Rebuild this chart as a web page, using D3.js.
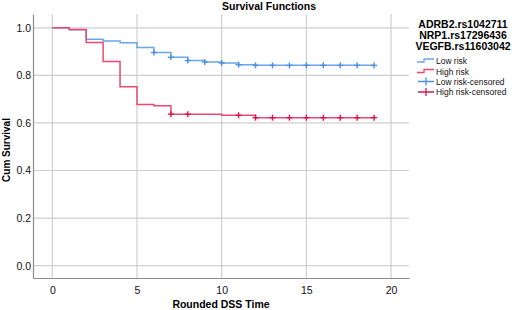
<!DOCTYPE html>
<html><head><meta charset="utf-8">
<script src="https://cdn.jsdelivr.net/npm/d3@7"></script>
<style>body{margin:0;background:#fff}svg{display:block;font-family:"Liberation Sans",Arial,sans-serif}</style>
</head><body><svg id="c" width="512" height="310"></svg>
<script>
const xTicks = [0, 5, 10, 15, 20];
const yTicks = [0.0, 0.2, 0.4, 0.6, 0.8, 1.0];
const lowTimes = [0, 1, 2, 3, 4, 5, 6, 7, 8, 9, 10, 11, 12];
const lowSurv  = [1.0, 0.992, 0.952, 0.944, 0.937, 0.917, 0.896, 0.876, 0.862, 0.856, 0.852, 0.845, 0.842];
const lowEnd = 19;
const lowCensor = [6, 7, 8, 9, 10, 11, 12, 13, 14, 15, 16, 17, 18, 19];
const highTimes = [0, 1, 2, 3, 4, 5, 6, 7, 10, 12];
const highSurv  = [1.0, 0.993, 0.938, 0.858, 0.752, 0.678, 0.672, 0.637, 0.632, 0.622];
const highEnd = 19;
const highCensor = [7, 8, 11, 12, 13, 14, 15, 16, 17, 18, 19];
const legendTitle = ["ADRB2.rs1042711", "NRP1.rs17296436", "VEGFB.rs11603042"];
const legendItems = ["Low risk", "High risk", "Low risk-censored", "High risk-censored"];

const lowColor = "#6aa6ec", lowMark = "#4e8fe2";
const highColor = "#e94a72", highMark = "#d8164c";

const svg = d3.select("#c");
const L = 33, R = 409, T = 14, B = 278;
const x = d3.scaleLinear().domain([-1.14, 21.06]).range([L, R]);
const y = d3.scaleLinear().domain([-0.052, 1.058]).range([B, T]);

// grid
svg.append("g").selectAll("line").data(yTicks).join("line")
  .attr("x1", L).attr("x2", R).attr("y1", d => y(d)).attr("y2", d => y(d))
  .attr("stroke", "#cfcfcf").attr("stroke-width", 1.2);
svg.append("g").selectAll("line").data(xTicks).join("line")
  .attr("y1", T).attr("y2", B).attr("x1", d => x(d)).attr("x2", d => x(d))
  .attr("stroke", "#cfcfcf").attr("stroke-width", 1.2);

// axes
const xa = svg.append("g").attr("transform", `translate(0,${B})`)
  .call(d3.axisBottom(x).tickValues(xTicks).tickSize(0).tickPadding(9).tickFormat(d3.format("d")));
const ya = svg.append("g").attr("transform", `translate(${L},0)`)
  .call(d3.axisLeft(y).tickValues(yTicks).tickSize(0).tickPadding(2).tickFormat(d3.format(".1f")));
[xa, ya].forEach(a => {
  a.select(".domain").attr("stroke", "#8c8c8c").attr("stroke-width", 1.2);
  a.selectAll("text").attr("font-size", "10.5px").attr("fill", "#111").attr("font-family", "Liberation Sans, Arial, sans-serif");
});

function stepVal(times, surv, t) {
  let v = surv[0];
  for (let i = 0; i < times.length; i++) if (times[i] <= t) v = surv[i];
  return v;
}
const line = d3.line().x(d => x(d[0])).y(d => y(d[1])).curve(d3.curveStepAfter);

function drawSeries(times, surv, end, cens, col, mcol) {
  const pts = times.map((t, i) => [t, surv[i]]);
  pts.push([end, surv[surv.length - 1]]);
  svg.append("path").attr("d", line(pts)).attr("fill", "none").attr("stroke", col).attr("stroke-width", 1.5);
  const g = svg.append("g");
  cens.forEach(t => {
    const cx = x(t), cy = y(stepVal(times, surv, t));
    g.append("line").attr("x1", cx).attr("x2", cx).attr("y1", cy - 3).attr("y2", cy + 3).attr("stroke", mcol).attr("stroke-width", 1.4);
    g.append("line").attr("x1", cx - 3).attr("x2", cx + 3).attr("y1", cy).attr("y2", cy).attr("stroke", mcol).attr("stroke-width", 1.4);
  });
}
drawSeries(lowTimes, lowSurv, lowEnd, lowCensor, lowColor, lowMark);
drawSeries(highTimes, highSurv, highEnd, highCensor, highColor, highMark);

// titles
svg.append("text").attr("x", 269).attr("y", 9.5).attr("text-anchor", "middle")
  .attr("font-size", "10.5px").attr("font-weight", "bold").text("Survival Functions");
svg.append("text").attr("x", 221).attr("y", 307.5).attr("text-anchor", "middle")
  .attr("font-size", "10.5px").attr("font-weight", "bold").text("Rounded DSS Time");
svg.append("text").attr("transform", "translate(10,150) rotate(-90)").attr("text-anchor", "middle")
  .attr("font-size", "10px").attr("font-weight", "bold").text("Cum Survival");

// legend
legendTitle.forEach((t, i) => {
  svg.append("text").attr("x", 463).attr("y", 28 + i * 11).attr("text-anchor", "middle")
    .attr("font-size", "10.5px").attr("font-weight", "bold").text(t);
});
const ly = [61, 71.5, 81.5, 92];
const lcols = [lowColor, highColor, lowMark, highMark];
legendItems.forEach((t, i) => {
  const cy = ly[i];
  if (i < 2) {
    svg.append("path").attr("d", `M417,${cy + 1}H424V${cy - 2}H434`).attr("fill", "none")
      .attr("stroke", lcols[i]).attr("stroke-width", 1.3);
  } else {
    svg.append("path").attr("d", `M418,${cy}H434M426,${cy - 4}V${cy + 4}`).attr("fill", "none")
      .attr("stroke", lcols[i]).attr("stroke-width", 1.3);
  }
  svg.append("text").attr("transform", `translate(436,${cy + 3.4}) scale(0.89,1)`)
    .attr("font-size", "9.5px").attr("fill", "#111").text(t);
});
</script></body></html>
